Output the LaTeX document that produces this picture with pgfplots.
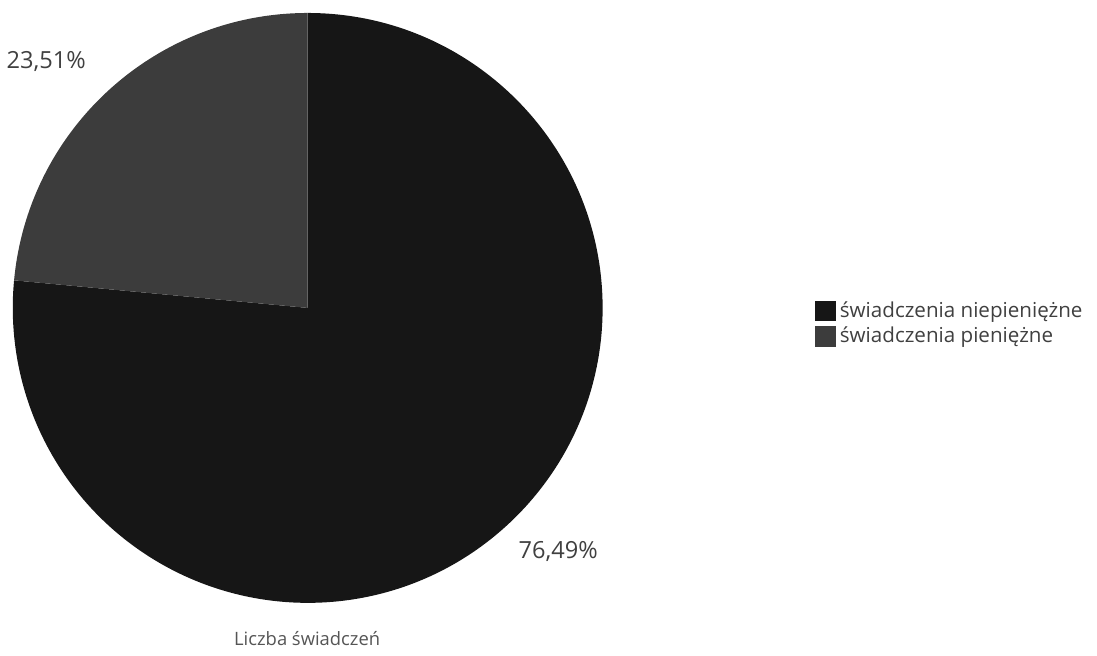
\documentclass[border=0pt]{standalone}
\usepackage{pgfplots}
\pgfplotsset{compat=1.18}
\usepackage{pgfplotstable}
\usepackage{fontspec}
\setmainfont{Open Sans}
\definecolor{darkslice}{HTML}{161616}
\definecolor{lightslice}{HTML}{3C3C3C}
\definecolor{txt}{HTML}{404040}
\definecolor{titletxt}{HTML}{555555}
% share of each slice, in per cent
\pgfplotstableread{
value
76.49
23.51
}\piedata
\pgfplotstablegetelem{0}{value}\of\piedata \let\va\pgfplotsretval
\pgfplotstablegetelem{1}{value}\of\piedata \let\vb\pgfplotsretval
\begin{document}
\begin{tikzpicture}
\begin{axis}[
  x=0.5pt, y=0.5pt,
  xmin=0, xmax=1097, ymin=0, ymax=656,
  hide axis, clip=false,
  legend style={at={(axis cs:815,359)}, anchor=north west, draw=none, fill=none,
    font=\fontsize{10.3}{12}\selectfont\color{txt}, row sep=-0.5pt,
    inner sep=0pt, cells={anchor=west},
    /tikz/every even column/.append style={column sep=4.5pt}},
  legend cell align=left,
  legend image code/.code={\fill[#1] (0pt,-4.8pt) rectangle (9.8pt,4.8pt);},
]
\addplot[draw=none, forget plot] coordinates {(0,0) (1097,656)};
\pgfmathsetmacro{\ea}{90-3.6*\va}
\pgfmathsetmacro{\eb}{90+3.6*\vb}
\fill[darkslice] (axis cs:307.5,348) -- ++(90:147.5pt) arc[start angle=90, end angle=\ea, radius=147.5pt] -- cycle;
\fill[lightslice] (axis cs:307.5,348) -- ++(90:147.5pt) arc[start angle=90, end angle=\eb, radius=147.5pt] -- cycle;
\addlegendimage{darkslice}
\addlegendentry{świadczenia niepieniężne}
\addlegendimage{lightslice}
\addlegendentry{świadczenia pieniężne}
\node[txt, font=\fontsize{11.8}{13}\selectfont] at (axis cs:46,594) {23,51\%};
\node[txt, font=\fontsize{11.8}{13}\selectfont] at (axis cs:558,104) {76,49\%};
\node[titletxt, font=\fontsize{9.2}{11}\selectfont] at (axis cs:307,17) {Liczba świadczeń};
\end{axis}
\end{tikzpicture}
\end{document}
